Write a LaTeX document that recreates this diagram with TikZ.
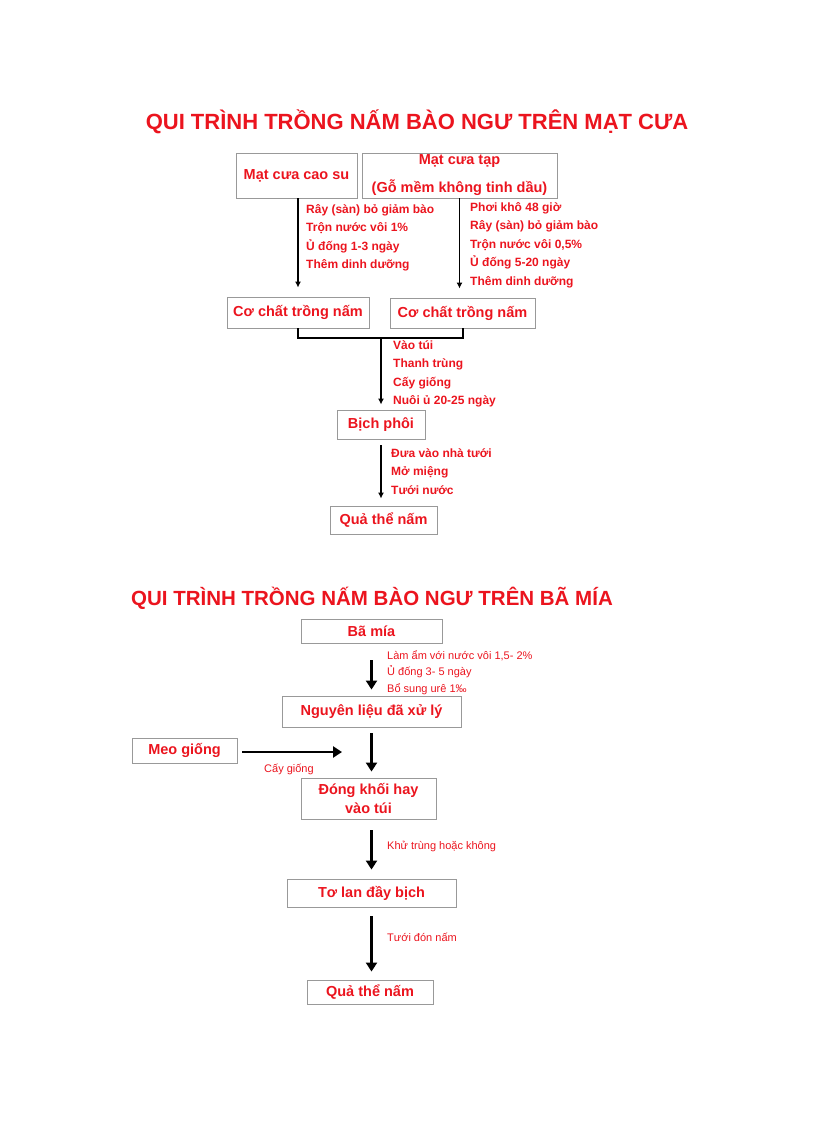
\documentclass[tikz,border=0pt]{standalone}
\usepackage{fontspec}
\setmainfont{Liberation Sans}
\usetikzlibrary{arrows.meta}
\definecolor{tred}{RGB}{235,20,30}
\begin{document}
\begin{tikzpicture}[x=1pt,y=-1pt,
  box/.style={draw=gray!80,line width=0.9pt,text=tred,font=\bfseries\fontsize{14.5}{17}\selectfont,inner sep=0pt},
  lab/.style={text=tred,font=\bfseries\fontsize{12}{18.5}\selectfont,anchor=north west,align=left,inner sep=0pt},
  slab/.style={text=tred,font=\fontsize{11}{16.5}\selectfont,anchor=north west,align=left,inner sep=0pt},
  thin arr/.style={line width=1.8pt,-{Latex[length=6pt,width=6pt]}},
  big arr/.style={line width=2.6pt,-{Triangle[length=9pt,width=11pt]}},
  title/.style={text=tred,font=\bfseries\fontsize{22}{24}\selectfont}]
\useasboundingbox (0,0) rectangle (816,1123);
\node[title] (t1) at (417,122) {QUI TRÌNH TRỒNG NẤM BÀO NGƯ TRÊN MẠT CƯA};
\node[box,minimum width=121,minimum height=45] (a1) at (296.5,175.5) {Mạt cưa cao su};
\node[box,minimum width=195,minimum height=45,align=center,font=\fontsize{14.5}{28}\selectfont\bfseries] (a2) at (459.5,175.5) {Mạt cưa tạp\\(Gỗ mềm không tinh dầu)};
\node[box,minimum width=142,minimum height=31] (b1) at (298,312.5) {Cơ chất trồng nấm};
\node[box,minimum width=145,minimum height=30] (b2) at (462.5,313) {Cơ chất trồng nấm};
\node[box,minimum width=88,minimum height=29] (c) at (381,424.5) {Bịch phôi};
\node[box,minimum width=107,minimum height=28] (d) at (383.5,520) {Quả thể nấm};
\coordinate (j1) at (298,338);
\coordinate (j2) at (463,338);
\coordinate (jm) at (381,338);
\draw[thin arr] (a1.south -| b1.north) -- ([yshift=9pt]b1.north);
\draw[thin arr] (a2.south) -- ([yshift=9pt]a2.south |- b2.north);
\draw[line width=1.8pt] (b1.south) -- (j1) -- (j2) -- (j2 |- b2.south);
\draw[thin arr] (jm) -- ([yshift=5pt]jm |- c.north);
\draw[thin arr] ([yshift=-6pt]c.south) -- ([yshift=7pt]c.south |- d.north);
\node[lab] (l1) at (306,204) {Rây (sàn) bỏ giảm bào\\Trộn nước vôi 1\%\\Ủ đống 1-3 ngày\\Thêm dinh dưỡng};
\node[lab] (l2) at (470,202) {Phơi khô 48 giờ\\Rây (sàn) bỏ giảm bào\\Trộn nước vôi 0,5\%\\Ủ đống 5-20 ngày\\Thêm dinh dưỡng};
\node[lab] (l3) at (393,340) {Vào túi\\Thanh trùng\\Cấy giống\\Nuôi ủ 20-25 ngày};
\node[lab] (l4) at (391,448) {Đưa vào nhà tưới\\Mở miệng\\Tưới nước};
% second
\node[title,font=\bfseries\fontsize{20.5}{22}\selectfont] (t2) at (372,598) {QUI TRÌNH TRỒNG NẤM BÀO NGƯ TRÊN BÃ MÍA};
\node[box,minimum width=141,minimum height=24] (e1) at (371.5,631) {Bã mía};
\node[box,minimum width=179,minimum height=31] (e2) at (371.5,711.5) {Nguyên liệu đã xử lý};
\node[box,minimum width=105,minimum height=25] (m) at (184.5,750.5) {Meo giống};
\node[box,minimum width=135,minimum height=41,align=center,font=\bfseries\fontsize{14.5}{21}\selectfont] (e3) at (368.5,798.5) {Đóng khối hay\\[-2pt]vào túi};
\node[box,minimum width=169,minimum height=28] (e4) at (371.5,893) {Tơ lan đầy bịch};
\node[box,minimum width=126,minimum height=24] (e5) at (370,992) {Quả thể nấm};
\coordinate (h) at (342,752);
\draw[big arr] ([yshift=-17pt]e1.south) -- ([yshift=6pt]e1.south |- e2.north);
\draw[big arr] ([yshift=-6pt]e2.south) -- ([yshift=6pt]e2.south |- e3.north);
\draw[big arr] ([xshift=5pt]m.east |- h) -- (h);
\draw[big arr] ([yshift=-11pt,xshift=3pt]e3.south) -- ([yshift=9pt,xshift=3pt]e3.south |- e4.north);
\draw[big arr] ([yshift=-9pt]e4.south) -- ([yshift=8pt]e4.south |- e5.north);
\node[slab] (s1) at (387,650) {Làm  ẩm  với  nước  vôi  1,5-  2\%\\Ủ đống 3- 5 ngày\\Bổ sung urê 1‰};
\node[slab] (s2) at (264,764) {Cấy giống};
\node[slab] (s3) at (387,841) {Khử trùng hoặc không};
\node[slab] (s4) at (387,933) {Tưới đón nấm};
\end{tikzpicture}
\end{document}
